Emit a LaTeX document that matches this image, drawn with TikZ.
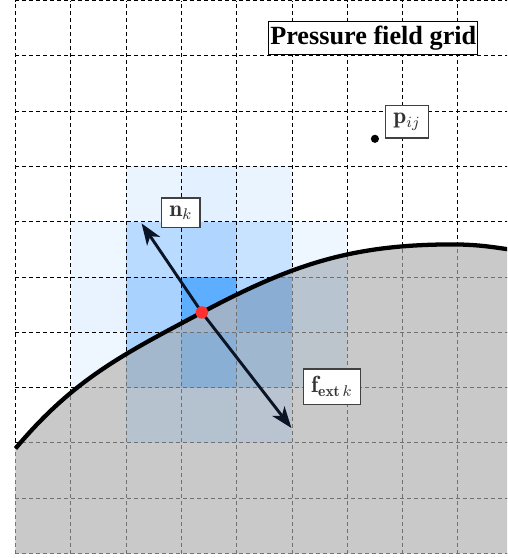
\documentclass[tikz,border=0pt]{standalone}
\usepackage{fontspec}
\newfontfamily\titlefont{Liberation Serif}
\usetikzlibrary{arrows.meta}
\definecolor{solidgrey}{HTML}{C9C9C9}
\definecolor{solidline}{HTML}{707070}
\definecolor{dotred}{RGB}{255,48,48}
\definecolor{arrowcol}{HTML}{0A1424}
\begin{document}
\begin{tikzpicture}[
  gridline/.style={line width=0.5pt, dash pattern=on 2pt off 1.6pt},
  arr/.style={draw=arrowcol, line width=1.5pt, -{Stealth[length=11pt,width=8pt,inset=3pt]}},
  labelbox/.style={draw=black!75, line width=0.7pt, fill=white, text=black!80, inner sep=4pt, font=\large},
  titlebox/.style={draw=black, line width=0.6pt, fill=white, inner xsep=0.8pt, inner ysep=2.2pt, font=\titlefont\bfseries\fontsize{13.5}{16}\selectfont},
]
\def\curvepath{(0,1.9) to[out=50,in=208] (3.37,4.36) to[out=28,in=180] (7.9,5.59) to[out=0,in=172] (9.2,5.46)}
\useasboundingbox (-0.28,-0.08) rectangle (8.888,10.01);
\begin{scope}
\clip (-0.28,-0.08) rectangle (8.888,10.01);
% weighted cells (fluid side)
\foreach \x/\y/\c in {2/6/EAF4FF,3/6/E2F0FF,4/6/EAF4FF,
  1/5/EEF6FF,2/5/B8DBFF,3/5/B0D6FF,4/5/C8E3FF,5/5/EEF6FF,
  1/4/E8F3FF,2/4/A9D2FF,3/4/5EAEFF,4/4/B0D6FF,5/4/EEF6FF,
  1/3/EEF6FF,2/3/A9D2FF,3/3/B0D6FF,4/3/C8E3FF,5/3/EEF6FF}
  {\definecolor{cellcol}{HTML}{\c}\fill[cellcol] (\x,\y) rectangle ++(1,1);}
% grid
\foreach \x in {0,...,9} \draw[gridline] (\x,0) -- (\x,10);
\foreach \y in {0,...,10} \draw[gridline] (0,\y) -- (9,\y);
% solid region
\fill[solidgrey] (0,0) -- \curvepath -- (9.2,0) -- cycle;
\begin{scope}
\clip (0,0) -- \curvepath -- (9.2,0) -- cycle;
\foreach \x/\y/\c in {4/5/A8BCD0,5/5/BCC5CE,
  2/4/A3B8CD,3/4/9EB3C9,4/4/8AAED3,5/4/B8C4D0,
  2/3/A3B8CD,3/3/8AAFD5,4/3/A0B8CF,5/3/BCC4CC,
  2/2/B6C2CE,3/2/B4C2D0,4/2/B9C4D0}
  {\definecolor{cellcol}{HTML}{\c}\fill[cellcol] (\x,\y) rectangle ++(1,1);}
\foreach \x in {0,...,9} \draw[gridline, solidline] (\x,0) -- (\x,10);
\foreach \y in {0,...,10} \draw[gridline, solidline] (0,\y) -- (9,\y);
\end{scope}
\draw[line width=2.2pt] \curvepath;
\end{scope}
% vectors
\coordinate (dot) at (3.37,4.36);
\coordinate (ntip) at (2.28,5.97);
\coordinate (ftip) at (4.99,2.27);
\draw[arr] (dot) -- (ntip);
\draw[arr] (dot) -- (ftip);
\node[circle, fill=dotred, inner sep=0pt, minimum size=6.4pt] (marker) at (dot) {};
\node[circle, fill=black, inner sep=0pt, minimum size=4.2pt] (pdot) at (6.5,7.5) {};
% labels
\node[labelbox] (plabel) at (7.08,7.81) {$\mathbf{p}_{ij}$};
\node[labelbox] (nlabel) at (2.99,6.16) {$\mathbf{n}_k$};
\node[labelbox] (flabel) at (5.72,3.02) {$\mathbf{f}_{\mathbf{ext}\,k}$};
\node[titlebox] (title) at (6.47,9.32) {Pressure field grid};
\end{tikzpicture}
\end{document}
